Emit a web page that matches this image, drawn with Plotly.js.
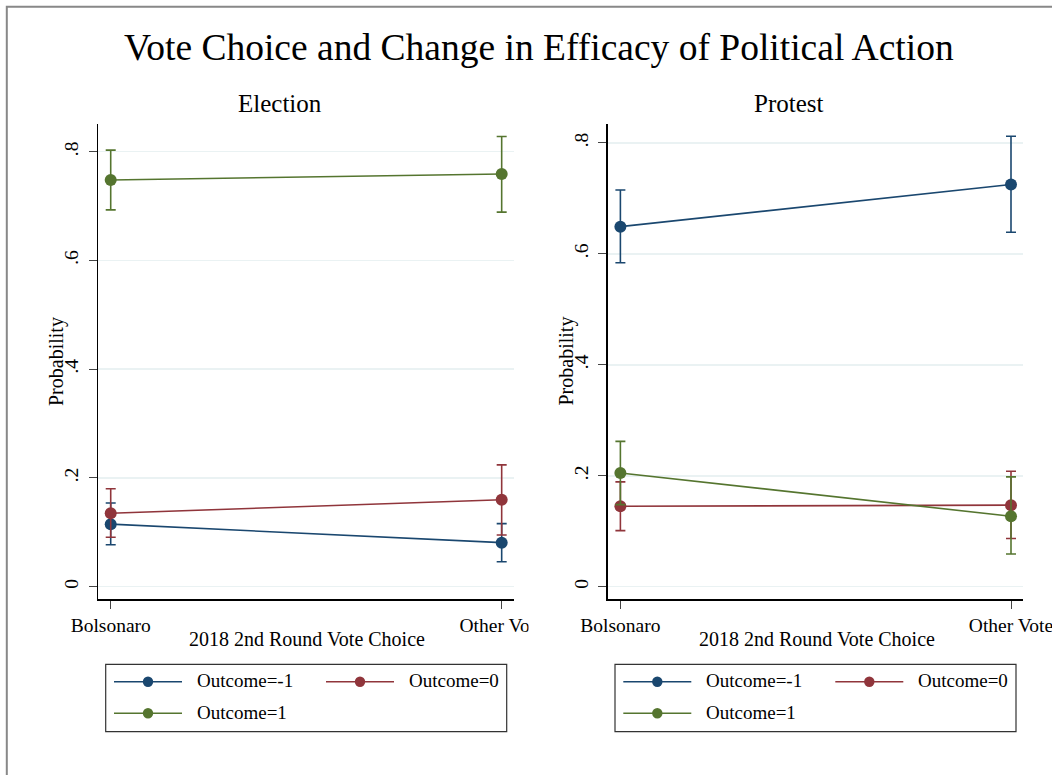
<!DOCTYPE html>
<html>
<head>
<meta charset="utf-8">
<script src="https://cdn.plot.ly/plotly-3.0.1.min.js"></script>
<style>html,body{margin:0;padding:0;background:#fff;} #chart{width:1052px;height:775px;}</style>
</head>
<body>
<div id="chart"></div>
<script>
// ---------- data ----------
const categories = ["Bolsonaro", "Other Vote"];
const seriesNames = ["Outcome=-1", "Outcome=0", "Outcome=1"];
const seriesColors = ["#1a476f", "#90353b", "#55752f"];
const panelTitles = ["Election", "Protest"];
const yTickVals = [0, 0.2, 0.4, 0.6, 0.8];
const yTickText = ["0", ".2", ".4", ".6", ".8"];

// Election panel: point estimate, lower CI, upper CI
const electionNeg1 = [0.115, 0.081];
const electionNeg1Lo = [0.077, 0.046];
const electionNeg1Hi = [0.154, 0.116];
const election0 = [0.135, 0.160];
const election0Lo = [0.091, 0.095];
const election0Hi = [0.180, 0.224];
const election1 = [0.748, 0.759];
const election1Lo = [0.693, 0.689];
const election1Hi = [0.803, 0.828];

// Protest panel
const protestNeg1 = [0.649, 0.725];
const protestNeg1Lo = [0.584, 0.639];
const protestNeg1Hi = [0.715, 0.812];
const protest0 = [0.145, 0.147];
const protest0Lo = [0.101, 0.087];
const protest0Hi = [0.189, 0.208];
const protest1 = [0.205, 0.127];
const protest1Lo = [0.148, 0.059];
const protest1Hi = [0.262, 0.198];

// ---------- helpers ----------
const W = 1052, H = 775;
const px = x => x / W;
const py = y => (H - y) / H;
const FONT = "Liberation Serif, Times New Roman, serif";
const TICK = 19.5, AXT = 20, LEG = 19, TTL = 37.5, SUB = 25;

function trace(vals, lo, hi, color, name, xa, ya) {
  return {
    type: "scatter", mode: "lines+markers", name: name,
    x: categories, y: vals, xaxis: xa, yaxis: ya, showlegend: false,
    line: {color: color, width: 1.6},
    marker: {color: color, size: 12},
    error_y: {
      type: "data", symmetric: false,
      array: hi.map((h, i) => h - vals[i]),
      arrayminus: lo.map((l, i) => vals[i] - l),
      color: color, thickness: 1.6, width: 5
    }
  };
}

const data = [
  trace(electionNeg1, electionNeg1Lo, electionNeg1Hi, seriesColors[0], seriesNames[0], "x", "y"),
  trace(election0, election0Lo, election0Hi, seriesColors[1], seriesNames[1], "x", "y"),
  trace(election1, election1Lo, election1Hi, seriesColors[2], seriesNames[2], "x", "y"),
  trace(protestNeg1, protestNeg1Lo, protestNeg1Hi, seriesColors[0], seriesNames[0], "x2", "y2"),
  trace(protest0, protest0Lo, protest0Hi, seriesColors[1], seriesNames[1], "x2", "y2"),
  trace(protest1, protest1Lo, protest1Hi, seriesColors[2], seriesNames[2], "x2", "y2")
];

function xaxis(domain, anchor) {
  return {
    domain: domain, anchor: anchor, type: "category",
    range: [-0.0325, 1.0315],
    showline: true, linecolor: "#000", linewidth: 1.3,
    ticks: "outside", ticklen: 8, tickwidth: 1, tickcolor: "#444",
    ticklabelstandoff: 0,
    showgrid: false, zeroline: false,
    tickfont: {family: FONT, size: TICK, color: "#000"},
    fixedrange: true
  };
}
function yaxis(domain, anchor, range) {
  return {
    domain: domain, anchor: anchor, range: range,
    tickvals: yTickVals, ticktext: yTickText, tickangle: -90,
    showline: true, linecolor: "#000", linewidth: 1.3,
    ticks: "outside", ticklen: 8, tickwidth: 1, tickcolor: "#444",
    ticklabelstandoff: 3,
    showgrid: true, gridcolor: "#eaf2f3", gridwidth: 1.5, zeroline: false,
    tickfont: {family: FONT, size: TICK, color: "#000"},
    fixedrange: true
  };
}

const yDom = [py(599.3), py(124)];

const annotations = [];
const shapes = [];
function ann(text, x, y, size, opts) {
  annotations.push(Object.assign({
    text: text, x: x, y: y, xref: "paper", yref: "paper",
    showarrow: false, xanchor: "center", yanchor: "middle",
    font: {family: FONT, size: size, color: "#000"}
  }, opts || {}));
}

// titles
ann("Vote Choice and Change in Efficacy of Political Action", px(538.5), py(48), TTL);
ann(panelTitles[0], px(279.5), py(103), SUB);
ann(panelTitles[1], px(789), py(103), SUB);
// axis titles
ann("Probability", px(56.5), py(361.5), AXT, {textangle: -90});
ann("Probability", px(566), py(361.5), AXT, {textangle: -90});
ann("2018 2nd Round Vote Choice", px(306.5), py(639), AXT);
ann("2018 2nd Round Vote Choice", px(816.5), py(639), AXT);

// legends (one per panel)
[0, 509.3].forEach(dx => {
  shapes.push({type: "rect", xref: "paper", yref: "paper",
    x0: px(105.7 + dx), x1: px(506.7 + dx), y0: py(731.7), y1: py(664.3),
    line: {color: "#333", width: 1.2}, fillcolor: "rgba(0,0,0,0)", layer: "above"});
  const slots = [[114, 681.7], [326, 681.7], [114, 713.3]];
  seriesNames.forEach((name, i) => {
    const [sx, sy] = slots[i];
    const x0 = sx + dx;
    shapes.push({type: "line", xref: "paper", yref: "paper",
      x0: px(x0), x1: px(x0 + 68), y0: py(sy), y1: py(sy),
      line: {color: seriesColors[i], width: 1.6}, layer: "above"});
    const cx = x0 + 34, r = 5.2;
    shapes.push({type: "circle", xref: "paper", yref: "paper",
      x0: px(cx - r), x1: px(cx + r), y0: py(sy + r), y1: py(sy - r),
      line: {color: seriesColors[i], width: 0}, fillcolor: seriesColors[i], layer: "above"});
    ann(name, px(x0 + 81), py(sy - 1), LEG, {xanchor: "left"});
  });
});

// clip of left panel's last tick label at its graph edge
shapes.push({type: "rect", xref: "paper", yref: "paper",
  x0: px(528.5), x1: px(549), y0: py(636), y1: py(606),
  line: {width: 0}, fillcolor: "#fff", layer: "above"});
// outer frame
shapes.push({type: "rect", xref: "paper", yref: "paper",
  x0: px(6.8), x1: px(1070), y0: py(790), y1: py(6.8),
  line: {color: "#888", width: 2}, fillcolor: "rgba(0,0,0,0)", layer: "above"});

const layout = {
  width: W, height: H,
  margin: {l: 0, r: 0, t: 0, b: 0},
  paper_bgcolor: "#fff", plot_bgcolor: "#fff",
  showlegend: false,
  font: {family: FONT, color: "#000"},
  xaxis: xaxis([px(98), px(514)], "y"),
  yaxis: yaxis(yDom, "x", [-0.0232, 0.851]),
  xaxis2: xaxis([px(607.7), px(1023.3)], "y2"),
  yaxis2: yaxis(yDom, "x2", [-0.0227, 0.834]),
  annotations: annotations,
  shapes: shapes
};

Plotly.newPlot("chart", data, layout, {staticPlot: true, displayModeBar: false});
</script>
</body>
</html>
